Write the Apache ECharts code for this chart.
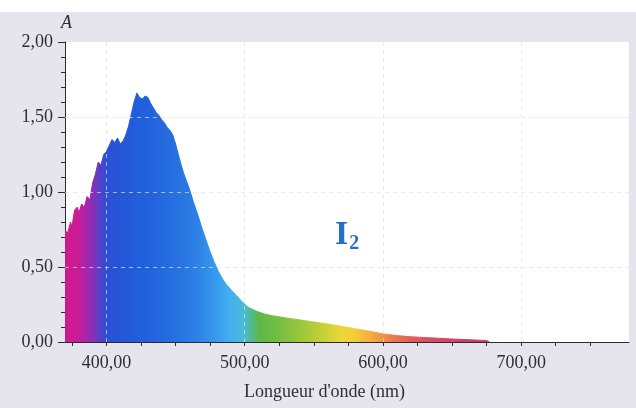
<!DOCTYPE html>
<html><head><meta charset="utf-8">
<script src="https://cdn.jsdelivr.net/npm/echarts@6/dist/echarts.min.js"></script>
<style>html,body{margin:0;padding:0;background:#fff}#c{width:636px;height:408px}</style>
</head><body><div id="c"></div>
<script>
// Wavelength (nm) and absorbance A of I2
const wavelengths = [370,372,374,375,377,379,380,382,384,386,388,390,392,394,396,398,400,402,404,406,408,410,412,414,416,418,420,422,424,426,428,430,432,434,436,438,440,442,444,446,448,450,452,454,456,458,460,463,466,469,472,475,478,481,484,487,490,494,498,502,506,510,515,520,530,540,550,560,570,580,590,600,610,620,630,640,650,660,670,675,677];
const absorbance = [0.74,0.73,0.80,0.77,0.88,0.90,0.86,0.92,0.90,0.97,0.95,1.06,1.12,1.20,1.18,1.25,1.27,1.31,1.35,1.33,1.36,1.32,1.34,1.38,1.44,1.52,1.60,1.66,1.63,1.62,1.64,1.63,1.59,1.56,1.53,1.51,1.48,1.46,1.43,1.41,1.38,1.32,1.25,1.18,1.12,1.07,1.02,0.93,0.85,0.76,0.68,0.60,0.53,0.47,0.42,0.38,0.35,0.31,0.27,0.235,0.215,0.20,0.185,0.175,0.16,0.147,0.133,0.12,0.105,0.088,0.072,0.054,0.043,0.035,0.030,0.025,0.020,0.016,0.012,0.010,0];
const xTicks = [375,400,425,450,475,500,525,550,575,600,625,650,675,700,725,750];
const xLabels = [400,500,600,700];
const gridX = [400,500,600,700];
const gridY = [0.5,1,1.5];
const seriesLabel = 'I';
const seriesSub = '2';
const xName = "Longueur d'onde (nm)";
const yName = 'A';

// spectrum colours every 10 nm from 370 to 680
const spectrum = ['#d01a8c','#c81c96','#8a2eb8','#2c4fd6','#2356d8','#215cda','#2262dc','#2468de','#2670e0','#2a7ae4','#3088e8','#389cec','#44b0f0','#48bcd0','#5cb848','#6cbc44','#80c040','#98c83c','#b4cc38','#d0d238','#ecd838','#f4cc38','#f2b040','#ee9046','#e8744e','#e26058','#da525c','#d44a60','#d04464','#cc4068','#c83c6c','#c83c6c'];

const fmt = v => v.toFixed(2).replace('.', ',');
const font = 'Liberation Serif';
const ink = '#2e2e38';
const chart = echarts.init(document.getElementById('c'));
chart.setOption({
  backgroundColor: '#e6e4ed',
  animation: false,
  textStyle: {fontFamily: font},
  grid: {left: 65, right: 7, top: 42, bottom: 66, show: true, backgroundColor: '#ffffff', borderWidth: 0},
  visualMap: {show: false, type: 'continuous', dimension: 0, seriesIndex: 0, min: 370, max: 680, inRange: {color: spectrum}},
  xAxis: {
    type: 'value', min: 370, max: 778,
    name: xName, nameLocation: 'middle', nameGap: 41,
    nameTextStyle: {fontFamily: font, fontSize: 18, color: ink, padding: [0, 45, 0, 0]},
    axisLine: {lineStyle: {color: '#2a2a30', width: 1}},
    axisTick: {show: true, customValues: xTicks, length: 4, lineStyle: {color: '#2a2a30'}},
    axisLabel: {customValues: xLabels, formatter: fmt, fontFamily: font, fontSize: 18, color: ink, margin: 12},
    splitLine: {show: false}
  },
  yAxis: {
    type: 'value', min: 0, max: 2, interval: 0.5,
    name: yName, nameLocation: 'end', nameGap: 10,
    nameTextStyle: {fontFamily: font, fontSize: 18, fontStyle: 'italic', color: ink, align: 'left', padding: [0, 0, 0, -4]},
    axisLine: {show: true, lineStyle: {color: '#2a2a30'}},
    axisTick: {show: true, length: 7, lineStyle: {color: '#2a2a30'}},
    minorTick: {show: true, splitNumber: 5, length: 4, lineStyle: {color: '#2a2a30'}},
    axisLabel: {formatter: fmt, fontFamily: font, fontSize: 18, color: ink, margin: 12},
    splitLine: {show: false}
  },
  graphic: [
    {type: 'rect', left: 0, top: 0, shape: {width: 636, height: 12}, style: {fill: '#ffffff'}, z: 0},
    {type: 'text', left: 335, top: 218, style: {
      text: '{a|' + seriesLabel + '}{b|' + seriesSub + '}',
      rich: {
        a: {fontFamily: font, fontSize: 34, fontWeight: 'bold', fill: '#2a6cc8'},
        b: {fontFamily: font, fontSize: 20, fontWeight: 'bold', fill: '#2a6cc8', padding: [18, 0, 0, 1]}
      }
    }, z: 100}
  ],
  series: [{
    type: 'line',
    data: wavelengths.map((w, i) => [w, absorbance[i]]),
    showSymbol: false,
    lineStyle: {width: 1},
    areaStyle: {opacity: 1},
    silent: true,
    markLine: {
      silent: true, symbol: 'none', label: {show: false},
      lineStyle: {type: [4, 4], color: 'rgba(222,222,232,0.7)', width: 1},
      data: gridX.map(v => ({xAxis: v})).concat(gridY.map(v => ({yAxis: v})))
    }
  }]
});
</script></body></html>
